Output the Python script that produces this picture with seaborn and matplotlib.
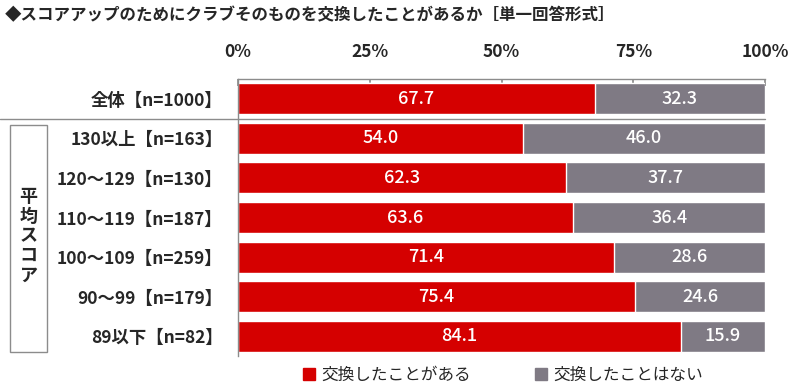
import matplotlib
matplotlib.use("Agg")
import matplotlib.pyplot as plt
import seaborn as sns
import pandas as pd
from matplotlib.patches import Rectangle
from matplotlib.lines import Line2D

categories = ["全体【n=1000】", "130以上【n=163】", "120～129【n=130】", "110～119【n=187】",
              "100～109【n=259】", "90～99【n=179】", "89以下【n=82】"]
yes_vals = [67.7, 54.0, 62.3, 63.6, 71.4, 75.4, 84.1]
no_vals = [32.3, 46.0, 37.7, 36.4, 28.6, 24.6, 15.9]
series_names = ["交換したことがある", "交換したことはない"]
x_ticks = [0, 25, 50, 75, 100]
x_ticklabels = ["0%", "25%", "50%", "75%", "100%"]
title = "◆スコアアップのためにクラブそのものを交換したことがあるか［単一回答形式］"
group_label = "平均スコア"

RED = "#D50000"
GREY = "#7F7A84"
LINE = "#8C8C8C"

sns.set_theme(style="white")
plt.rcParams['font.family'] = ['Noto Sans CJK JP', 'DejaVu Sans']

df = pd.DataFrame({"cat": categories, "yes": yes_vals, "no": no_vals})
df["total"] = df["yes"] + df["no"]

fig = plt.figure(figsize=(8, 3.88), dpi=100)
ax = fig.add_axes([238/800, 1-356/388, (765-238)/800, (356-79)/388])

sns.barplot(data=df, y="cat", x="total", color=GREY, saturation=1, width=0.78,
            orient="h", ax=ax, order=categories)
sns.barplot(data=df, y="cat", x="yes", color=RED, saturation=1, width=0.78,
            orient="h", ax=ax, order=categories)

for i, (y_, n_) in enumerate(zip(yes_vals, no_vals)):
    ax.text(y_/2, i, f"{y_:.1f}", ha="center", va="center", color="white",
            fontsize=13, fontweight="medium")
    ax.text(y_ + n_/2, i, f"{n_:.1f}", ha="center", va="center", color="white",
            fontsize=13, fontweight="medium")

ax.set_xlim(0, 100)
ax.set_ylim(6.5, -0.5)
ax.set_xlabel("")
ax.set_ylabel("")
ax.xaxis.tick_top()
ax.set_xticks(x_ticks)
ax.set_xticklabels(x_ticklabels, fontsize=12.5, fontweight="bold")
ax.tick_params(axis="x", direction="in", length=5, color=LINE, pad=13, top=True, bottom=False)
ax.set_yticks(range(len(categories)))
ax.set_yticklabels(categories, fontsize=12.5, fontweight="bold")
ax.tick_params(axis="y", length=0, pad=11)
for s in ["right", "bottom"]:
    ax.spines[s].set_visible(False)
for s in ["top", "left"]:
    ax.spines[s].set_color(LINE)
    ax.spines[s].set_linewidth(1)

# separator line
fig.add_artist(Line2D([0.0, 765/800], [1-119/388, 1-119/388], color=LINE, lw=1))
# group box
fig.add_artist(Rectangle((10/800, 1-352/388), 37/800, 227/388, fill=False,
                         edgecolor=LINE, lw=1))
fig.text(28.5/800, 1-236/388, "\n".join(group_label), ha="center", va="center",
         fontsize=13, fontweight="bold", linespacing=1.05)

fig.text(5/800, 1-15/388, title, ha="left", va="center", fontsize=11.9, fontweight="bold")

handles = [Rectangle((0, 0), 1, 1, color=RED), Rectangle((0, 0), 1, 1, color=GREY)]
fig.legend(handles, series_names, loc="center", bbox_to_anchor=(503/800, 1-375/388),
           ncol=2, frameon=False, fontsize=12, handlelength=0.75, handleheight=0.75,
           columnspacing=3.8, handletextpad=0.4)

fig.savefig("out.png", dpi=100)
